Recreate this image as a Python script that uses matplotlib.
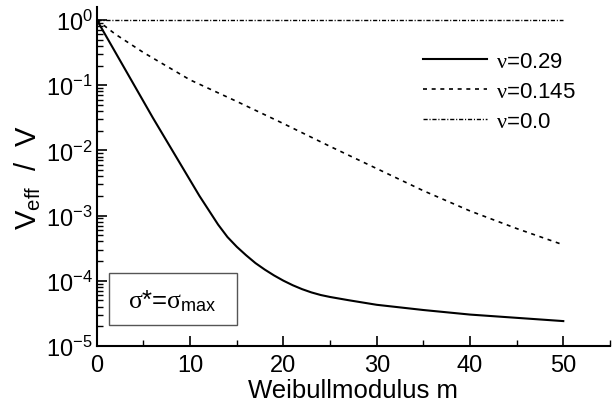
import matplotlib
matplotlib.use('Agg')
import matplotlib.pyplot as plt
from matplotlib.patches import Rectangle
from matplotlib.ticker import LogLocator, MultipleLocator
import numpy as np

plt.rcParams['font.family'] = ['Liberation Sans', 'DejaVu Sans']
plt.rcParams['mathtext.fontset'] = 'custom'
plt.rcParams['mathtext.rm'] = 'Liberation Sans'
plt.rcParams['mathtext.it'] = 'Liberation Serif'
plt.rcParams['mathtext.bf'] = 'Liberation Sans:bold'

# Weibull modulus m
m_029 = [0, 2, 4, 6, 8, 9, 10, 11, 12, 13, 14, 15, 16, 17, 18, 19, 20,
         21, 22, 23, 24, 25, 27, 30, 35, 40, 45, 50]
# log10(Veff/V)
log_029 = [0, -0.5, -1.0, -1.5, -1.98, -2.22, -2.46, -2.70, -2.92, -3.14,
           -3.33, -3.48, -3.61, -3.73, -3.83, -3.92, -4.00, -4.07, -4.13,
           -4.18, -4.22, -4.25, -4.30, -4.37, -4.45, -4.52, -4.57, -4.62]

m_0145 = [0, 2, 5, 10, 15, 20, 25, 30, 35, 40, 45, 50]
log_0145 = [0, -0.22, -0.5, -0.92, -1.25, -1.59, -1.94, -2.28, -2.62,
            -2.93, -3.2, -3.45]

m_00 = [0, 50]
v_00 = [1.0, 1.0]

labels = [r'$\nu$=0.29', r'$\nu$=0.145', r'$\nu$=0.0']

fig = plt.figure(figsize=(6.13, 4.10), dpi=100)
ax = fig.add_axes([0.158, 0.154, 0.837, 0.826])

ax.plot(m_029, 10 ** np.array(log_029), color='k', lw=1.5, label=labels[0])
ax.plot(m_0145, 10 ** np.array(log_0145), color='k', lw=1.2,
        dashes=(2.4, 2.8), label=labels[1])
ax.plot(m_00, v_00, color='k', lw=1.0, dashes=(3, 1.3, 0.8, 1.3), label=labels[2])

ax.set_yscale('log')
ax.set_xlim(0, 55)
ax.set_ylim(1e-5, 1.57)
ax.xaxis.set_major_locator(MultipleLocator(10))
ax.xaxis.set_minor_locator(MultipleLocator(5))
ax.yaxis.set_major_locator(LogLocator(base=10, numticks=10))
ax.yaxis.set_minor_locator(LogLocator(base=10, subs=np.arange(2, 10), numticks=20))

for s in ['top', 'right']:
    ax.spines[s].set_visible(False)
for s in ['left', 'bottom']:
    ax.spines[s].set_linewidth(1.5)

ax.tick_params(which='major', direction='in', length=7, width=1.2, labelsize=17, pad=6)
ax.tick_params(which='minor', direction='in', length=4, width=1.0)
ax.tick_params(axis='y', which='major', pad=3)

ax.set_xlabel('Weibullmodulus m', fontsize=18.5, labelpad=1)
ax.set_ylabel(r'V$_{\rm eff}$  /  V', fontsize=21, labelpad=2)

leg = ax.legend(loc='upper right', bbox_to_anchor=(0.95, 0.897), frameon=False,
                fontsize=16, handlelength=2.9, handletextpad=0.38,
                labelspacing=0.4, borderaxespad=0, borderpad=0.4)

ax.add_patch(Rectangle((0.024, 0.062), 0.249, 0.154, transform=ax.transAxes,
                       fill=False, edgecolor='#555555', lw=1.0))
ax.text(0.148, 0.135, r'$\sigma$*=$\sigma_{\rm max}$', transform=ax.transAxes,
        fontsize=18.5, ha='center', va='center')

fig.savefig('out.png', dpi=100)
